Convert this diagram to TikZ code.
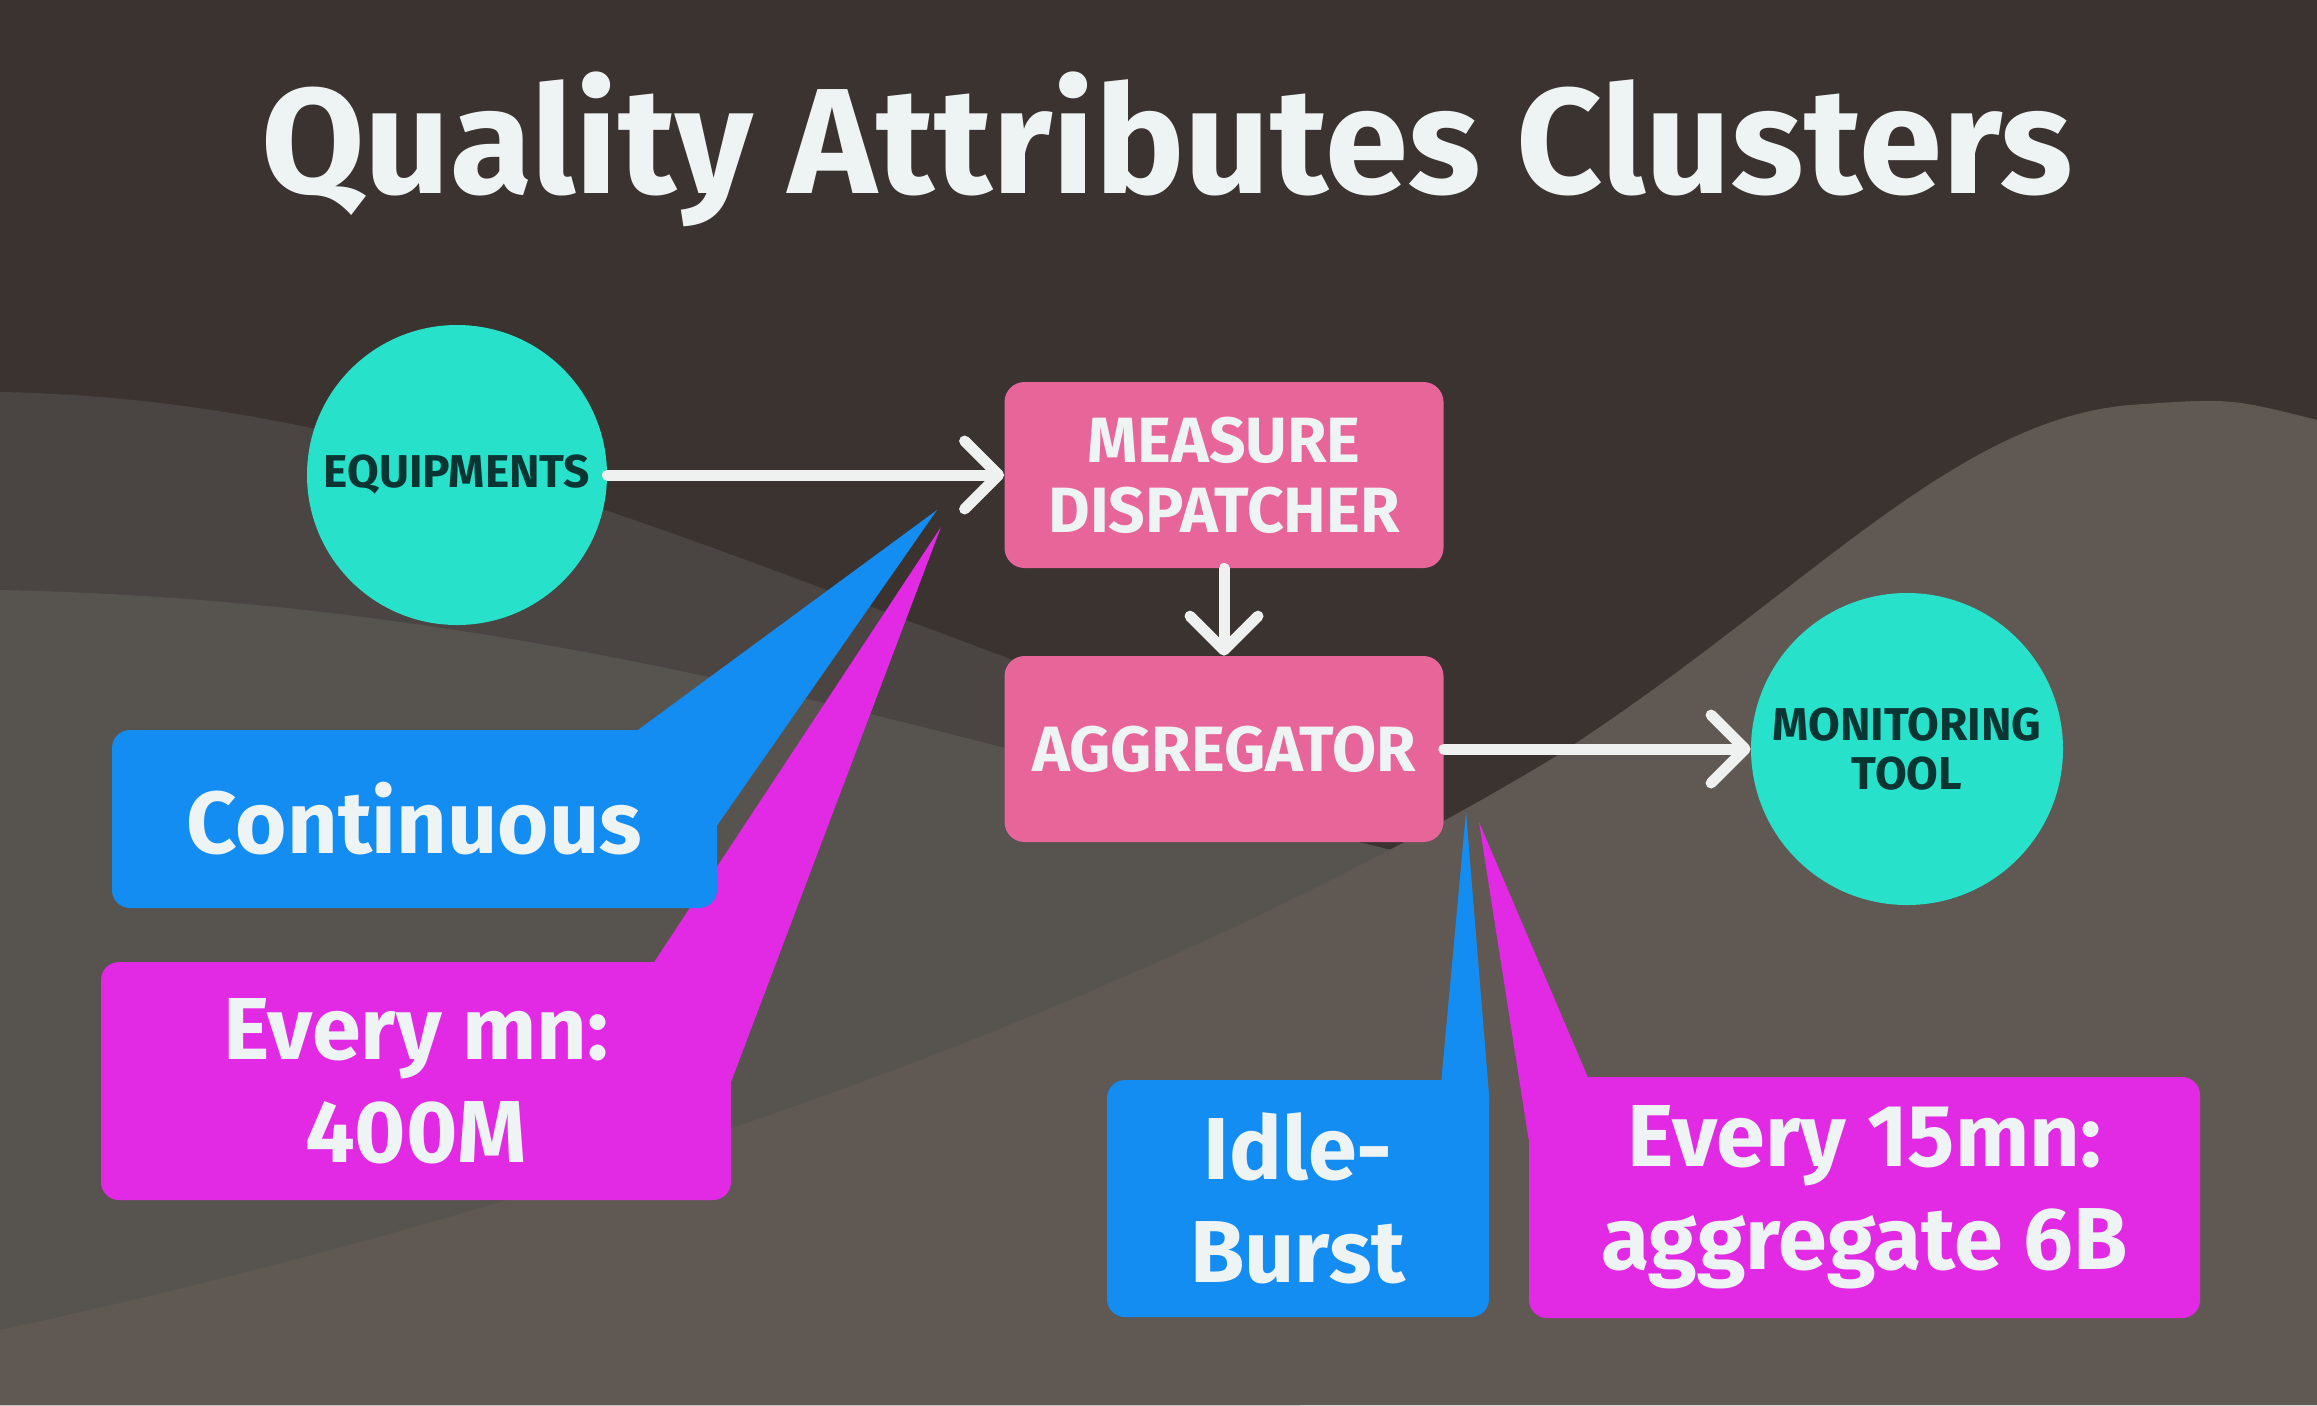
\documentclass[tikz,border=0pt]{standalone}
\usepackage{fontspec}
\setmainfont{Fira Sans}
\usetikzlibrary{arrows.meta}
\definecolor{bgtop}{HTML}{3A3330}
\definecolor{bgmidA}{HTML}{4A4542}
\definecolor{bgmidB}{HTML}{57534F}
\definecolor{bgright}{HTML}{5F5853}
\definecolor{tealc}{HTML}{27E1CB}
\definecolor{darkt}{HTML}{0B3532}
\definecolor{pinkc}{HTML}{E8659A}
\definecolor{bluec}{HTML}{148DF2}
\definecolor{magc}{HTML}{E22AE4}
\definecolor{txtw}{HTML}{EEF3F4}
\definecolor{arrowc}{HTML}{EEF1EF}
\begin{document}
\begin{tikzpicture}[x=0.5pt,y=-0.5pt,
  circ/.style={circle, fill=tealc, inner sep=0pt, minimum size=150pt, text=darkt,
    align=center, font=\bfseries\fontsize{23}{24.5}\selectfont},
  pbox/.style={rectangle, rounded corners=10pt, fill=pinkc, minimum width=219.5pt,
    minimum height=93pt, inner sep=0pt, text=txtw, align=center,
    font=\bfseries\fontsize{32}{35}\selectfont},
  callbox/.style={rectangle, rounded corners=9pt, inner sep=0pt, text=txtw,
    align=center, font=\bfseries\fontsize{44}{51.5}\selectfont},
  arr/.style={draw=arrowc, line width=5.5pt, line cap=round,
    -{Straight Barb[length=17pt,width=34pt,line cap=round,line join=round]}}]
% background
\useasboundingbox (0,0) rectangle (2317,1405);
\fill[bgtop] (0,0) rectangle (2317,1405);
\fill[bgmidA] (0,392) .. controls (450,400) and (800,600) .. (1300,760)
  -- (1300,1405) -- (0,1405) -- cycle;
\fill[bgmidB] (0,590) .. controls (500,600) and (900,720) .. (1350,840)
  .. controls (1600,900) .. (2317,1000) -- (2317,1405) -- (0,1405) -- cycle;
\fill[bgright] (0,1330) .. controls (600,1200) and (1150,1000) .. (1550,760)
  .. controls (1800,600) and (1950,420) .. (2130,405)
  .. controls (2230,398) .. (2317,420) -- (2317,1405) -- (0,1405) -- cycle;

% title
\node[anchor=base, text=txtw, font=\bfseries\fontsize{75}{80}\selectfont] (title)
  at (1167,193) {Quality Attributes Clusters};

% main nodes
\node[circ] (equip) at (457,475) {EQUIPMENTS};
\node[pbox] (measure) at (1224,475) {MEASURE\\DISPATCHER};
\node[pbox] (aggr) at (1224,749) {AGGREGATOR};
\node[circ, minimum size=156pt] (monitor) at (1907,749) {MONITORING\\TOOL};

\draw[arr] (equip) -- (measure);
\draw[arr] (measure) -- (aggr);
\draw[arr] (aggr) -- (monitor);

% left callouts
\node[callbox, fill=magc, minimum width=315pt, minimum height=119pt] (evmn)
  at (416,1081) {Every mn:\\400M};
\coordinate (evmntip) at (941,527);
\fill[magc] ([xshift=-38.5pt]evmn.north east) -- (evmntip) -- (evmn.east) -- cycle;

\node[callbox, fill=bluec, minimum width=302.5pt, minimum height=89pt] (cont)
  at (414.5,819) {Continuous};
\coordinate (conttip) at (937,510);
\fill[bluec] ([xshift=-39.5pt]cont.north east) -- (conttip) -- ([yshift=-3pt]cont.east) -- cycle;

% right callouts
\node[callbox, fill=magc, minimum width=335.5pt, minimum height=120.5pt] (ev15)
  at (1864.5,1197.5) {Every 15mn:\\aggregate 6B};
\coordinate (ev15tip) at (1479,822);
\fill[magc] ([xshift=29.5pt]ev15.north west) -- (ev15tip) -- ([yshift=-31.5pt]ev15.north west) -- cycle;

\node[callbox, fill=bluec, minimum width=191pt, minimum height=118.5pt] (idle)
  at (1298,1198.5) {Idle-\\Burst};
\coordinate (idletip) at (1466,812);
\fill[bluec] ([xshift=-24pt]idle.north east) -- (idletip) -- ([yshift=-10pt]idle.north east) -- cycle;
\end{tikzpicture}
\end{document}
